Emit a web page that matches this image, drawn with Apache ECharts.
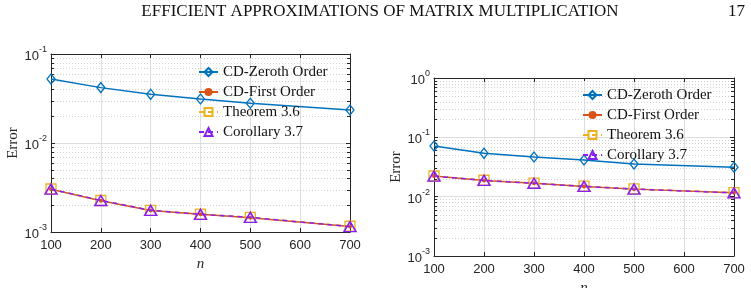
<!DOCTYPE html>
<html><head><meta charset="utf-8">
<script src="https://cdn.jsdelivr.net/npm/echarts@6/dist/echarts.min.js"></script>
<style>html,body{margin:0;padding:0;background:#fff}#c{width:751px;height:288px}</style>
</head><body><div id="c"></div>
<script>
const nValues = [100, 200, 300, 400, 500, 700];
const seriesNames = ['CD-Zeroth Order', 'CD-First Order', 'Theorem 3.6', 'Corollary 3.7'];
// left panel
const zerothL = [0.0523, 0.0419, 0.0352, 0.0312, 0.0279, 0.0235];
const firstL = [0.00302, 0.00225, 0.00174, 0.00158, 0.00145, 0.00115];
const theoremL = [0.00304, 0.00226, 0.00175, 0.00159, 0.00146, 0.00116];
const corollaryL = [0.00303, 0.00226, 0.00175, 0.00158, 0.00146, 0.00115];
// right panel
const zerothR = [0.0713, 0.0537, 0.0466, 0.0414, 0.0355, 0.0312];
const firstR = [0.0222, 0.0188, 0.0168, 0.0149, 0.0134, 0.0116];
const theoremR = [0.0223, 0.0189, 0.0169, 0.0150, 0.0135, 0.0117];
const corollaryR = [0.0222, 0.0188, 0.0168, 0.0149, 0.0134, 0.0116];
const headerText = 'EFFICIENT APPROXIMATIONS OF MATRIX MULTIPLICATION';
const pageNumber = '17';

const AX = '#262626';
const colors = ['#0072BD', '#D95319', '#EDB120', '#8A1EF0'];

function pairs(ys) { return nValues.map((x, i) => [x, ys[i]]); }
function minorVals(minExp, maxExp) {
  const out = [];
  for (let e = minExp; e < maxExp; e++) for (let m = 2; m <= 9; m++) out.push([100, m * Math.pow(10, e)]);
  return out;
}
const logLabel = {
  color: AX, margin: 4,
  formatter: v => '{b|10}{s|' + Math.round(Math.log10(v)) + '}',
  rich: {
    b: { fontSize: 13, fontFamily: 'Liberation Sans', color: AX, lineHeight: 18, verticalAlign: 'bottom' },
    s: { fontSize: 9, fontFamily: 'Liberation Sans', color: AX, lineHeight: 18, verticalAlign: 'top' }
  }
};

function panel(gi, grid, yMin, yMax, data) {
  const xAxes = [
    { gridIndex: gi, type: 'value', min: 100, max: 700, interval: 100, position: 'bottom',
      name: 'n', nameLocation: 'middle', nameGap: 25,
      nameTextStyle: { fontFamily: 'Liberation Serif', fontStyle: 'italic', fontSize: 15, color: AX },
      axisLine: { show: true, onZero: false, lineStyle: { color: AX, width: 1 } },
      axisTick: { show: true, inside: true, length: 4, lineStyle: { color: AX } },
      axisLabel: { color: AX, fontSize: 13, fontFamily: 'Liberation Sans', margin: 7 },
      splitLine: { show: true, lineStyle: { color: '#dedede', width: 1 } } },
    { gridIndex: gi, type: 'value', min: 100, max: 700, interval: 100, position: 'top',
      axisLine: { show: true, onZero: false, lineStyle: { color: AX, width: 1 } },
      axisTick: { show: true, inside: true, length: 4, lineStyle: { color: AX } },
      axisLabel: { show: false }, splitLine: { show: false } }
  ];
  const yAxes = [
    { gridIndex: gi, type: 'log', logBase: 10, min: yMin, max: yMax, position: 'left',
      name: 'Error', nameLocation: 'middle', nameGap: 30, nameRotate: 90,
      nameTextStyle: { fontFamily: 'Liberation Serif', fontSize: 15, color: AX },
      axisLine: { show: true, onZero: false, lineStyle: { color: AX, width: 1 } },
      axisTick: { show: true, inside: true, length: 4, lineStyle: { color: AX } },
      axisLabel: logLabel,
      splitLine: { show: true, lineStyle: { color: '#dedede', width: 1 } } },
    { gridIndex: gi, type: 'log', logBase: 10, min: yMin, max: yMax, position: 'right',
      axisLine: { show: true, onZero: false, lineStyle: { color: AX, width: 1 } },
      axisTick: { show: true, inside: true, length: 4, lineStyle: { color: AX } },
      axisLabel: { show: false }, splitLine: { show: false } }
  ];
  return { grid, xAxes, yAxes, data, yMin, yMax };
}

const pL = panel(0, { left: 51, top: 54, width: 299, height: 178, outerBoundsMode: 'none', containLabel: false }, 0.001, 0.1, [zerothL, firstL, theoremL, corollaryL]);
const pR = panel(1, { left: 434, top: 78, width: 300, height: 178, outerBoundsMode: 'none', containLabel: false }, 0.001, 1, [zerothR, firstR, theoremR, corollaryR]);

function panelSeries(p, gi) {
  const xi = gi * 2, yi = gi * 2;
  const lo = Math.round(Math.log10(p.yMin)), hi = Math.round(Math.log10(p.yMax));
  const s = [{
    type: 'custom', xAxisIndex: xi, yAxisIndex: yi, silent: true, z: 1,
    data: minorVals(lo, hi), clip: false,
    renderItem: (params, api) => {
      const y = Math.round(api.coord([api.value(0), api.value(1)])[1]) + 0.5;
      const cs = params.coordSys;
      return { type: 'group', children: [
        { type: 'line', shape: { x1: cs.x, y1: y, x2: cs.x + cs.width, y2: y }, style: { stroke: '#cfcfcf', lineWidth: 1, lineDash: [1, 2] } },
        { type: 'line', shape: { x1: cs.x, y1: y, x2: cs.x + 3, y2: y }, style: { stroke: AX, lineWidth: 1 } },
        { type: 'line', shape: { x1: cs.x + cs.width - 3, y1: y, x2: cs.x + cs.width, y2: y }, style: { stroke: AX, lineWidth: 1 } }
      ] };
    }
  }];
  const defs = [
    { symbol: 'diamond', symbolSize: [8, 10], fill: 'rgba(255,255,255,0)', dash: 'solid', bw: 1.3 },
    { symbol: 'circle', symbolSize: 4, fill: colors[1], dash: 'solid', bw: 0 },
    { symbol: 'rect', symbolSize: 10, fill: 'rgba(255,255,255,0)', dash: [5, 4], bw: 1.3 },
    { symbol: 'triangle', symbolSize: [12, 10], fill: 'rgba(255,255,255,0)', dash: [5, 4], bw: 1.5 }
  ];
  seriesNames.forEach((name, k) => {
    const d = defs[k];
    s.push({
      name, type: 'line', xAxisIndex: xi, yAxisIndex: yi, z: 3 + k,
      data: pairs(p.data[k]), symbol: d.symbol, symbolSize: d.symbolSize, showAllSymbol: true,
      lineStyle: { color: colors[k], width: 1.5, type: d.dash },
      itemStyle: { color: d.fill, borderColor: colors[k], borderWidth: d.bw },
      emphasis: { disabled: true }, animation: false
    });
  });
  return s;
}

const legendText = { fontFamily: 'Liberation Serif', fontSize: 15, fontStyle: 'normal', color: '#111', lineHeight: 16 };
const legendCommon = {
  orient: 'vertical', itemWidth: 19, itemHeight: 10, itemGap: 4, padding: 0,
  textStyle: legendText,
  data: seriesNames.map(n => ({ name: n, textStyle: legendText })),
  selectedMode: false, backgroundColor: 'transparent'
};

const chart = echarts.init(document.getElementById('c'), null, { renderer: 'canvas' });
chart.setOption({
  animation: false,
  backgroundColor: '#fff',
  grid: [pL.grid, pR.grid],
  xAxis: [...pL.xAxes, ...pR.xAxes],
  yAxis: [...pL.yAxes, ...pR.yAxes],
  legend: [
    Object.assign({}, legendCommon, { left: 198, top: 64 }),
    Object.assign({}, legendCommon, { left: 582, top: 87 })
  ],
  series: [...panelSeries(pL, 0), ...panelSeries(pR, 1)],
  graphic: [
    { type: 'text', x: 380, y: 12, style: { text: headerText, font: '17px "Liberation Serif"', fill: '#111', textAlign: 'center', textVerticalAlign: 'middle' } },
    { type: 'text', x: 745, y: 12, style: { text: pageNumber, font: '17px "Liberation Serif"', fill: '#111', textAlign: 'right', textVerticalAlign: 'middle' } }
  ]
});
</script>
</body></html>
